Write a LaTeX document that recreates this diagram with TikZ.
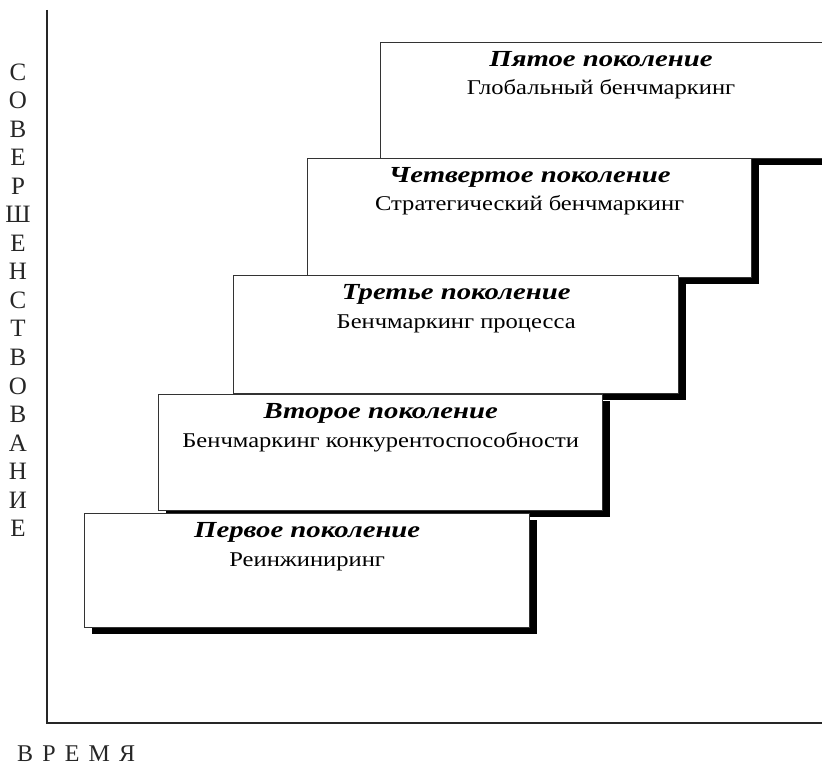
\documentclass[tikz,border=0pt]{standalone}
\usepackage{fontspec}
\setmainfont{Liberation Serif}
\newfontfamily\subfont[FakeStretch=1.17]{Liberation Serif}
\newfontfamily\titfont[FakeStretch=1.25]{Liberation Serif}
\newfontfamily\axfont[LetterSpace=38]{Liberation Serif}
\usetikzlibrary{shadows}
\begin{document}
\begin{tikzpicture}[x=1pt,y=-1pt]
\useasboundingbox (0,0) rectangle (822,767);
\tikzset{
  genbox/.style={draw=black!80, line width=1.4pt, fill=white, anchor=north west, inner sep=0pt,
    drop shadow={shadow xshift=7pt, shadow yshift=-6pt, fill=black, opacity=1}},
  ttl/.style={font=\titfont\fontsize{23}{23}\selectfont\bfseries\itshape, anchor=base, inner sep=0pt},
  sub/.style={font=\subfont\fontsize{21}{21}\selectfont, anchor=base, inner sep=0pt},
  axis/.style={draw=black!85, line width=2pt},
  vlet/.style={font=\fontsize{25}{25}\selectfont, anchor=base, inner sep=0pt, text=black!85},
}
% boxes, from the top one down
\node[genbox, minimum width=446pt, minimum height=116pt] (g5) at (380,42) {};
\node[genbox, minimum width=444pt, minimum height=119pt] (g4) at (307,158) {};
\node[genbox, minimum width=445pt, minimum height=118pt] (g3) at (233,275) {};
\node[genbox, minimum width=444pt, minimum height=116pt] (g2) at (158,394) {};
\node[genbox, minimum width=445pt, minimum height=114pt] (g1) at (84,513) {};

\node[ttl] (t5) at (601,66.5) {Пятое поколение};
\node[sub] (s5) at (601,95) {Глобальный бенчмаркинг};
\node[ttl] (t4) at ([yshift=-24.5pt]g4.north) {Четвертое поколение};
\node[sub] (s4) at ([yshift=-53pt]g4.north) {Стратегический бенчмаркинг};
\node[ttl] (t3) at ([yshift=-24.5pt]g3.north) {Третье поколение};
\node[sub] (s3) at ([yshift=-53pt]g3.north) {Бенчмаркинг процесса};
\node[ttl] (t2) at ([yshift=-24.5pt]g2.north) {Второе поколение};
\node[sub] (s2) at ([yshift=-53pt]g2.north) {Бенчмаркинг конкурентоспособности};
\node[ttl] (t1) at ([yshift=-24.5pt]g1.north) {Первое поколение};
\node[sub] (s1) at ([yshift=-53pt]g1.north) {Реинжиниринг};

% axes
\coordinate (ytop) at (47,10);
\coordinate (O) at (47,723);
\coordinate (xend) at (822,723);
\draw[axis] (ytop) -- (O) -- (xend);

% vertical label
\foreach \ch [count=\i from 0] in {С,О,В,Е,Р,Ш,Е,Н,С,Т,В,О,В,А,Н,И,Е}{
  \node[vlet] (v\i) at (18,{80.5+28.5*\i}) {\ch};
}
\node[font=\axfont\fontsize{24}{24}\selectfont, anchor=base west, inner sep=0pt, text depth=0pt, text=black!85] (time) at (17,761) {ВРЕМЯ};
\end{tikzpicture}
\end{document}
